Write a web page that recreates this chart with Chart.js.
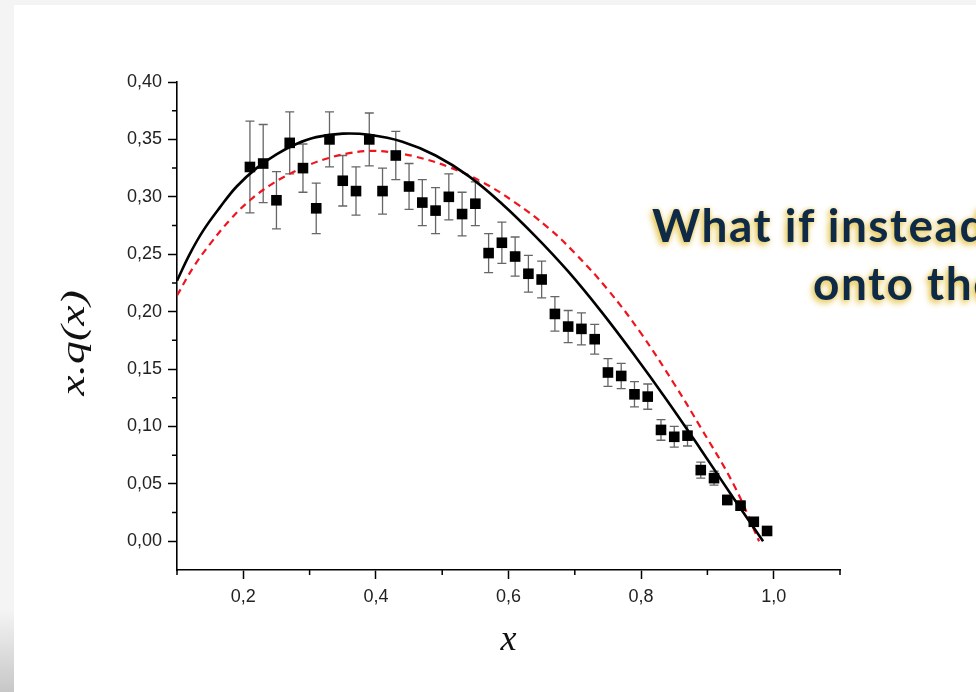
<!DOCTYPE html>
<html>
<head>
<meta charset="utf-8">
<script src="https://cdn.jsdelivr.net/npm/chart.js@4.4.0/dist/chart.umd.min.js"></script>
<style>
  html, body { margin: 0; padding: 0; width: 976px; height: 692px; overflow: hidden; background: #f3f4f3; }
  #slide { position: absolute; left: 14px; top: 5px; width: 962px; height: 687px; background: #fff; }
  #shade { position: absolute; left: 0; top: 610px; width: 14px; height: 82px; background: linear-gradient(#f3f4f3, #c6c7c6); }
  #chart { position: absolute; left: 0; top: 0; }
  .callout {
    position: absolute; white-space: nowrap;
    font-family: Lato, "Open Sans", sans-serif; font-weight: 700; font-size: 46px; line-height: 46px;
    letter-spacing: 1.5px;
    color: #0e2a47;
    text-shadow: -2px 3px 6px rgba(228, 192, 60, 0.95), 0 0 4px rgba(228, 192, 60, 0.6);
  }
</style>
</head>
<body>
<div id="slide"></div>
<div id="shade"></div>
<canvas id="chart" width="976" height="692"></canvas>
<div class="callout" style="left:652px; top:202px;">What if instead</div>
<div class="callout" style="left:813px; top:260px;">onto the</div>
<script>
// measured points with error bars
const pointX = [0.21, 0.23, 0.25, 0.27, 0.29, 0.31, 0.33, 0.35, 0.37, 0.39,
                0.41, 0.43, 0.45, 0.47, 0.49, 0.51, 0.53, 0.55, 0.57, 0.59,
                0.61, 0.63, 0.65, 0.67, 0.69, 0.71, 0.73, 0.75, 0.77, 0.79,
                0.81, 0.83, 0.85, 0.87, 0.89, 0.91, 0.93, 0.95, 0.97, 0.99];
const pointY = [0.326, 0.329, 0.297, 0.347, 0.325, 0.290, 0.350, 0.314, 0.305, 0.350,
                0.305, 0.336, 0.309, 0.295, 0.288, 0.300, 0.285, 0.294, 0.251, 0.260,
                0.248, 0.233, 0.228, 0.198, 0.187, 0.185, 0.176, 0.147, 0.144, 0.128,
                0.126, 0.097, 0.091, 0.092, 0.062, 0.055, 0.036, 0.031, 0.017, 0.009];
const pointErr = [0.040, 0.034, 0.025, 0.027, 0.021, 0.022, 0.024, 0.022, 0.021, 0.023,
                  0.020, 0.021, 0.020, 0.020, 0.020, 0.020, 0.019, 0.019, 0.017, 0.018,
                  0.017, 0.016, 0.016, 0.015, 0.014, 0.014, 0.013, 0.012, 0.011, 0.011,
                  0.011, 0.009, 0.009, 0.009, 0.007, 0.006, 0.004, 0.004, 0.003, 0.003];

// solid black curve
const solidX = [0.10, 0.12, 0.14, 0.165, 0.19, 0.22, 0.25, 0.28, 0.31, 0.35, 0.39, 0.44,
                0.49, 0.54, 0.59, 0.64, 0.69, 0.74, 0.79, 0.84, 0.89, 0.94, 0.984];
const solidY = [0.227, 0.251, 0.271, 0.291, 0.309, 0.325, 0.337, 0.346, 0.352, 0.355, 0.354, 0.348,
                0.336, 0.318, 0.294, 0.266, 0.235, 0.200, 0.162, 0.122, 0.080, 0.037, 0.0];

// red dashed curve
const dashX = [0.10, 0.125, 0.15, 0.18, 0.21, 0.24, 0.27, 0.30, 0.33, 0.36, 0.39, 0.42,
               0.46, 0.51, 0.56, 0.61, 0.66, 0.70, 0.75, 0.80, 0.85, 0.89, 0.94, 0.978];
const dashY = [0.214, 0.239, 0.259, 0.280, 0.297, 0.310, 0.320, 0.328, 0.334, 0.338, 0.340, 0.339,
               0.335, 0.326, 0.313, 0.295, 0.273, 0.251, 0.219, 0.181, 0.137, 0.099, 0.049, 0.0];

// axis ticks
const xMajorTicks = [0.2, 0.4, 0.6, 0.8, 1.0];
const xMinorTicks = [0.1, 0.3, 0.5, 0.7, 0.9, 1.1];
const yMajorTicks = [0.00, 0.05, 0.10, 0.15, 0.20, 0.25, 0.30, 0.35, 0.40];
const yMinorTicks = [0.025, 0.075, 0.125, 0.175, 0.225, 0.275, 0.325, 0.375];

const yTitle = 'x.q(x)';
const xTitle = 'x';

const toXY = (xs, ys) => xs.map((v, i) => ({ x: v, y: ys[i] }));
const comma = (v, d) => v.toFixed(d).replace('.', ',');

const errorBars = {
  id: 'errorBars',
  beforeDatasetsDraw(chart) {
    const { ctx, scales: { x, y } } = chart;
    ctx.save();
    ctx.strokeStyle = '#666';
    ctx.lineWidth = 1.3;
    ctx.beginPath();
    pointX.forEach((v, i) => {
      const px = x.getPixelForValue(v);
      const top = y.getPixelForValue(pointY[i] + pointErr[i]);
      const bot = y.getPixelForValue(pointY[i] - pointErr[i]);
      ctx.moveTo(px, top); ctx.lineTo(px, bot);
      ctx.moveTo(px - 4.5, top); ctx.lineTo(px + 4.5, top);
      ctx.moveTo(px - 4.5, bot); ctx.lineTo(px + 4.5, bot);
    });
    ctx.stroke();
    ctx.restore();
  }
};

// short minor ticks + the y title (stretched along its length like the original figure)
const axisExtras = {
  id: 'axisExtras',
  afterDraw(chart) {
    const { ctx, chartArea, scales: { x, y } } = chart;
    ctx.save();
    ctx.strokeStyle = '#000';
    ctx.lineWidth = 1.5;
    ctx.beginPath();
    xMinorTicks.forEach(v => {
      const px = x.getPixelForValue(v);
      ctx.moveTo(px, chartArea.bottom); ctx.lineTo(px, chartArea.bottom + 5);
    });
    yMinorTicks.forEach(v => {
      const py = y.getPixelForValue(v);
      ctx.moveTo(chartArea.left, py); ctx.lineTo(chartArea.left - 5, py);
    });
    ctx.stroke();

    ctx.translate(chartArea.left - 102, (chartArea.top + chartArea.bottom) / 2 + 17);
    ctx.rotate(-Math.PI / 2);
    ctx.scale(1.35, 1);
    ctx.font = 'italic 34px "Liberation Serif", "Times New Roman", serif';
    ctx.fillStyle = '#111';
    ctx.textAlign = 'center';
    ctx.textBaseline = 'middle';
    ctx.fillText(yTitle, 0, 0);
    ctx.restore();
  }
};

const tickFont = { family: '"Liberation Sans", Arial, sans-serif', size: 18 };
const titleFont = { family: '"Liberation Serif", "Times New Roman", serif', size: 36, style: 'italic' };

new Chart(document.getElementById('chart'), {
  type: 'scatter',
  data: {
    datasets: [
      {
        data: toXY(pointX, pointY),
        pointStyle: 'rect',
        pointRadius: 7.5,
        pointHoverRadius: 7.5,
        backgroundColor: '#000',
        borderColor: '#000',
        borderWidth: 0,
        order: 0
      },
      {
        data: toXY(solidX, solidY),
        showLine: true,
        pointRadius: 0,
        borderColor: '#000',
        borderWidth: 2.6,
        tension: 0.4,
        order: 1
      },
      {
        data: toXY(dashX, dashY),
        showLine: true,
        pointRadius: 0,
        borderColor: '#f0141e',
        borderWidth: 2.2,
        borderDash: [7, 5],
        tension: 0.4,
        order: 2
      }
    ]
  },
  options: {
    responsive: false,
    devicePixelRatio: 1,
    animation: false,
    layout: { autoPadding: false, padding: { left: 0, top: 82, right: 136, bottom: 0 } },
    plugins: { legend: { display: false }, tooltip: { enabled: false } },
    scales: {
      x: {
        type: 'linear',
        min: 0.1,
        max: 1.1,
        afterBuildTicks: s => { s.ticks = xMajorTicks.map(v => ({ value: v })); },
        afterFit: s => { s.height = 122; },
        grid: { drawOnChartArea: false, tickLength: 9, tickWidth: 1.5, tickColor: '#000' },
        border: { color: '#000', width: 1.6 },
        ticks: { font: tickFont, color: '#222', padding: 7, maxRotation: 0, callback: v => comma(v, 1) },
        title: { display: true, text: xTitle, font: titleFont, color: '#111', padding: { top: 0, bottom: 30 } }
      },
      y: {
        type: 'linear',
        min: -0.025,
        max: 0.40,
        afterBuildTicks: s => { s.ticks = yMajorTicks.map(v => ({ value: v })); },
        afterFit: s => { s.width = 177; },
        grid: { drawOnChartArea: false, tickLength: 9, tickWidth: 1.5, tickColor: '#000' },
        border: { color: '#000', width: 1.6 },
        ticks: { font: tickFont, color: '#222', padding: 6, callback: v => comma(v, 2) },
        title: { display: false }
      }
    }
  },
  plugins: [errorBars, axisExtras]
});
</script>
</body>
</html>
